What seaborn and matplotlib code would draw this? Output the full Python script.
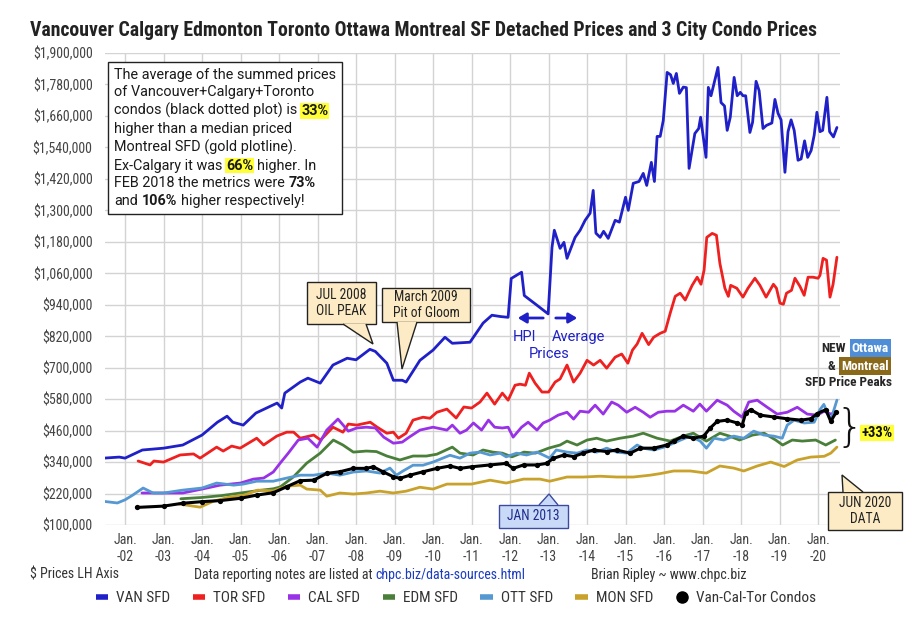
import matplotlib
matplotlib.use("Agg")
import matplotlib.pyplot as plt
import seaborn as sns
import pandas as pd
from matplotlib import font_manager
from matplotlib.lines import Line2D
from matplotlib.patches import Rectangle, Polygon
from matplotlib.ticker import FuncFormatter, FixedLocator
from matplotlib.offsetbox import TextArea, HPacker, VPacker, AnchoredOffsetbox

# ---------------- data (decimal year, price in $000) ----------------
VAN_SFD = [(2001.45,355),(2001.85,359),(2002.0,355),(2002.45,386),(2003.0,393),(2003.5,405),(2004.0,443),
           (2004.4,492),(2004.65,515),(2004.8,492),(2005.07,481),(2005.4,527),(2005.95,565),(2006.07,546),
           (2006.15,603),(2006.55,645),(2006.75,660),(2007.07,641),(2007.4,710),(2007.77,736),(2008.0,730),
           (2008.36,770),(2008.5,762),(2008.8,717),(2008.97,652),(2009.2,652),(2009.3,645),(2009.66,728),
           (2010.0,767),(2010.31,816),(2010.5,793),(2010.96,797),(2011.3,870),(2011.53,900),(2011.75,895),
           (2011.95,892),(2012.03,1040),(2012.3,1064),(2012.37,975),(2012.7,938),(2012.99,905),(2013.09,1159),
           (2013.15,1224),(2013.3,1155),(2013.4,1178),(2013.48,1117),(2013.69,1197),(2013.82,1224),(2013.95,1262),
           (2014.08,1289),(2014.16,1376),(2014.23,1213),(2014.34,1197),(2014.43,1220),(2014.55,1193),(2014.73,1262),
           (2014.84,1255),(2015.0,1350),(2015.07,1300),(2015.2,1403),(2015.35,1410),(2015.46,1441),(2015.55,1395),
           (2015.67,1483),(2015.75,1410),(2015.82,1582),(2015.9,1582),(2015.98,1643),(2016.08,1826),(2016.17,1817),
           (2016.24,1784),(2016.32,1822),(2016.4,1746),(2016.5,1770),(2016.58,1768),(2016.65,1460),(2016.8,1593),
           (2016.9,1612),(2016.95,1655),(2017.09,1502),(2017.15,1769),(2017.22,1737),(2017.4,1845),(2017.48,1711),
           (2017.57,1698),(2017.64,1605),(2017.72,1655),(2017.82,1807),(2017.9,1737),(2017.98,1750),(2018.05,1737),
           (2018.12,1737),(2018.23,1597),(2018.3,1636),(2018.39,1792),(2018.47,1756),(2018.57,1612),(2018.66,1624),
           (2018.8,1633),(2018.88,1723),(2018.96,1670),(2019.04,1645),(2019.14,1445),(2019.22,1600),(2019.3,1645),
           (2019.38,1605),(2019.48,1491),(2019.56,1496),(2019.65,1565),(2019.73,1502),(2019.82,1528),(2019.9,1587),
           (2019.97,1674),(2020.05,1600),(2020.12,1605),(2020.23,1731),(2020.3,1600),(2020.4,1580),(2020.49,1616)]

TOR_SFD = [(2002.34,344),(2002.65,329),(2002.75,344),(2003.0,340),(2003.43,367),(2003.78,371),(2003.95,355),
           (2004.38,397),(2004.55,382),(2004.77,401),(2004.99,393),(2005.42,431),(2005.6,405),(2005.94,439),
           (2006.2,454),(2006.38,454),(2006.55,431),(2006.9,443),(2007.08,424),(2007.4,473),(2007.66,454),
           (2007.8,485),(2008.02,481),(2008.37,492),(2008.55,473),(2008.8,450),(2008.97,454),(2009.1,431),
           (2009.3,450),(2009.48,500),(2009.74,511),(2009.92,507),(2010.1,530),(2010.36,542),(2010.6,508),
           (2010.8,550),(2011.0,546),(2011.22,569),(2011.4,603),(2011.6,561),(2011.8,603),(2011.95,576),
           (2012.13,633),(2012.26,637),(2012.4,633),(2012.5,679),(2012.65,641),(2012.83,607),(2013.0,607),
           (2013.17,645),(2013.3,657),(2013.48,710),(2013.65,645),(2013.82,679),(2014.0,728),(2014.17,710),
           (2014.34,728),(2014.51,698),(2014.73,740),(2014.9,752),(2015.06,717),(2015.18,767),(2015.3,790),
           (2015.43,831),(2015.6,788),(2015.73,816),(2015.9,831),(2016.03,839),(2016.16,908),(2016.29,972),
           (2016.42,984),(2016.55,958),(2016.73,1014),(2016.86,1045),(2016.96,1018),(2017.04,1072),(2017.11,1197),
           (2017.25,1212),(2017.36,1205),(2017.45,1098),(2017.58,1003),(2017.67,972),(2017.73,1014),(2017.89,1003),
           (2018.05,969),(2018.18,1003),(2018.36,1041),(2018.49,1014),(2018.65,969),(2018.84,1018),(2018.92,1003),
           (2019.01,946),(2019.1,942),(2019.18,984),(2019.31,995),(2019.4,1041),(2019.53,1010),(2019.64,976),
           (2019.74,1045),(2019.87,1045),(2020.0,1041),(2020.05,1052),(2020.13,1117),(2020.22,1110),(2020.31,969),
           (2020.39,1018),(2020.49,1121)]

CAL_SFD = [(2002.44,222),(2003.0,222),(2003.5,222),(2004.0,237),(2004.47,252),(2005.0,260),(2005.33,275),
           (2005.6,279),(2005.85,302),(2006.03,336),(2006.24,374),(2006.5,424),(2006.75,431),(2006.99,397),
           (2007.24,462),(2007.53,504),(2007.8,458),(2008.02,470),(2008.27,473),(2008.5,470),(2008.72,435),
           (2008.97,412),(2009.2,416),(2009.38,435),(2009.66,462),(2010.0,473),(2010.36,462),(2010.5,481),
           (2010.7,450),(2010.87,462),(2011.05,489),(2011.26,462),(2011.44,500),(2011.6,473),(2011.8,470),
           (2011.95,473),(2012.08,435),(2012.3,473),(2012.47,492),(2012.7,462),(2012.86,489),(2013.03,500),
           (2013.25,519),(2013.48,530),(2013.65,504),(2013.82,534),(2014.04,530),(2014.21,557),(2014.42,523),
           (2014.64,569),(2014.81,557),(2015.03,530),(2015.25,549),(2015.46,530),(2015.64,511),(2015.85,530),
           (2016.07,534),(2016.28,534),(2016.5,557),(2016.76,534),(2016.93,561),(2017.1,534),(2017.38,576),
           (2017.64,557),(2017.81,534),(2018.03,511),(2018.2,569),(2018.42,576),(2018.68,549),(2018.94,523),
           (2019.2,530),(2019.46,549),(2019.72,523),(2019.98,519),(2020.16,534),(2020.33,523),(2020.47,530)]

EDM_SFD = [(2003.45,200),(2004.0,205),(2004.5,212),(2005.0,222),(2005.5,232),(2005.85,238),(2006.03,245),
           (2006.37,283),(2006.72,336),(2007.07,374),(2007.41,424),(2007.66,405),(2007.93,378),(2008.27,382),
           (2008.53,380),(2008.8,363),(2009.14,348),(2009.48,363),(2009.83,363),(2010.1,370),(2010.5,397),
           (2010.7,374),(2011.04,367),(2011.3,386),(2011.55,378),(2011.8,374),(2012.05,360),(2012.36,378),
           (2012.66,374),(2013.0,393),(2013.3,405),(2013.48,420),(2013.74,405),(2014.0,424),(2014.25,431),
           (2014.51,420),(2014.86,431),(2015.2,439),(2015.46,450),(2015.82,431),(2016.16,420),(2016.5,439),
           (2016.76,450),(2017.1,420),(2017.45,450),(2017.7,439),(2017.96,424),(2018.3,443),(2018.6,450),
           (2018.9,424),(2019.08,405),(2019.33,424),(2019.59,420),(2019.94,424),(2020.2,405),(2020.45,424)]

OTT_SFD = [(2001.4,191),(2001.8,184),(2002.0,196),(2002.2,214),(2002.47,241),(2002.73,222),(2003.0,222),
           (2003.5,233),(2004.0,241),(2004.38,260),(2004.82,252),(2005.07,256),(2005.42,267),(2005.85,267),
           (2006.2,279),(2006.55,290),(2006.9,290),(2007.24,298),(2007.58,290),(2007.93,302),(2008.27,306),
           (2008.62,298),(2008.88,317),(2009.05,290),(2009.22,306),(2009.48,328),(2009.74,328),(2010.0,340),
           (2010.44,366),(2010.7,355),(2010.96,374),(2011.22,378),(2011.48,367),(2011.74,374),(2011.9,360),
           (2012.17,374),(2012.43,367),(2012.7,378),(2012.86,367),(2013.03,355),(2013.2,386),(2013.48,378),
           (2013.74,374),(2014.0,386),(2014.25,378),(2014.51,393),(2014.77,378),(2015.03,374),(2015.3,405),
           (2015.46,393),(2015.73,386),(2016.0,397),(2016.25,412),(2016.43,424),(2016.68,439),(2016.94,420),
           (2017.1,393),(2017.3,431),(2017.55,424),(2017.81,439),(2018.07,431),(2018.33,458),(2018.59,443),
           (2018.85,439),(2019.07,431),(2019.2,481),(2019.38,500),(2019.64,489),(2019.9,492),(2020.05,540),
           (2020.15,560),(2020.25,525),(2020.33,500),(2020.49,576)]

MON_SFD = [(2003.4,180),(2003.95,168),(2004.3,191),(2004.7,206),(2005.1,214),(2005.45,233),(2005.85,230),
           (2006.2,248),(2006.55,252),(2006.72,237),(2007.07,233),(2007.24,210),(2007.58,222),(2007.93,218),
           (2008.27,222),(2008.62,229),(2008.97,222),(2009.3,229),(2009.66,244),(2010.0,237),(2010.36,256),
           (2010.7,256),(2011.0,256),(2011.48,271),(2011.9,260),(2012.35,275),(2012.78,275),(2013.03,267),
           (2013.48,283),(2013.9,283),(2014.34,286),(2014.77,283),(2015.2,283),(2015.64,290),(2015.9,296),
           (2016.25,306),(2016.68,306),(2017.1,298),(2017.45,325),(2017.81,317),(2018.07,306),(2018.42,325),
           (2018.77,340),(2019.12,323),(2019.46,348),(2019.81,359),(2020.16,362),(2020.33,374),(2020.49,397)]

CONDOS = [(2002.3,167),(2003.0,172),(2003.5,183),(2004.0,189),(2004.47,193),(2005.0,202),(2005.42,214),
          (2005.85,223),(2006.2,246),(2006.55,269),(2006.9,271),(2007.24,297),(2007.58,303),(2007.93,316),
          (2008.27,316),(2008.45,322),(2008.7,303),(2008.97,284),(2009.14,278),(2009.4,290),(2009.74,303),
          (2010.1,316),(2010.44,325),(2010.7,316),(2011.0,322),(2011.48,329),(2011.9,335),(2012.08,316),
          (2012.35,329),(2012.7,329),(2012.95,335),(2013.12,354),(2013.4,367),(2013.65,361),(2013.9,374),
          (2014.17,386),(2014.51,380),(2014.77,386),(2015.12,374),(2015.38,393),(2015.73,393),(2016.07,405),
          (2016.25,420),(2016.5,439),(2016.76,431),(2017.03,439),(2017.2,470),(2017.38,495),(2017.64,500),
          (2017.9,489),(2018.03,481),(2018.12,527),(2018.25,540),(2018.5,519),(2018.85,512),(2019.2,505),
          (2019.55,500),(2019.81,505),(2019.98,525),(2020.2,540),(2020.33,495),(2020.47,530)]

SERIES_NAMES = ["VAN SFD", "TOR SFD", "CAL SFD", "EDM SFD", "OTT SFD", "MON SFD", "Van-Cal-Tor Condos"]
SERIES_DATA = [VAN_SFD, TOR_SFD, CAL_SFD, EDM_SFD, OTT_SFD, MON_SFD, CONDOS]
COLORS = ["#2020c8", "#ee2020", "#9932e6", "#4a7f3a", "#5598d2", "#c9a22c", "#000000"]
Y_TICKS = list(range(100000, 1900001, 120000))
YEAR_TICKS = list(range(2002, 2021))
TICK_LABELS = ["Jan.\n-%02d" % (y % 100) for y in YEAR_TICKS]
TITLE = "Vancouver Calgary Edmonton Toronto Ottawa Montreal SF Detached Prices and 3 City Condo Prices"

# ---------------- fonts ----------------
names = {f.name for f in font_manager.fontManager.ttflist}
COND = next((n for n in ["Roboto Condensed", "Liberation Sans Narrow"] if n in names), "Roboto")

sns.set_style("white")
plt.rcParams["font.family"] = ["Roboto", "DejaVu Sans"]

rows = []
for nm, pts in zip(SERIES_NAMES, SERIES_DATA):
    for yr, v in pts:
        rows.append({"year": yr, "price": v * 1000, "series": nm})
df = pd.DataFrame(rows)

W, H = 914, 640
fig, ax = plt.subplots(figsize=(W / 100, H / 100), dpi=100)
fig.subplots_adjust(left=105 / W, right=840 / W, top=1 - 53 / H, bottom=1 - 525 / H)

def fx(px):
    return px / W

def fy(py):
    return 1 - py / H

for nm, col in zip(SERIES_NAMES, COLORS):
    sub = df[df.series == nm]
    if nm == "Van-Cal-Tor Condos":
        sns.lineplot(data=sub, x="year", y="price", color=col, lw=2.2, marker="o", markersize=3.8,
                     markeredgewidth=0, estimator=None, ax=ax, legend=False, zorder=4)
    else:
        sns.lineplot(data=sub, x="year", y="price", color=col, lw=2.0, estimator=None, ax=ax,
                     legend=False, zorder=3)

ax.set_xlim(2001.48, 2020.57)
ax.set_ylim(100000, 1900000)
ax.yaxis.set_major_locator(FixedLocator(Y_TICKS))
ax.yaxis.set_major_formatter(FuncFormatter(lambda v, p: "${:,.0f}".format(v)))
ax.set_xticks(YEAR_TICKS)
ax.set_xticklabels(TICK_LABELS)
ax.set_xlabel("")
ax.set_ylabel("")
ax.grid(True, color="#d3d3d3", lw=1.0, zorder=0)
ax.set_axisbelow(True)
for s in ax.spines.values():
    s.set_visible(False)
ax.tick_params(axis="y", length=6, color="#cccccc", width=1, labelsize=10, labelcolor="#444444", pad=3)
ax.tick_params(axis="x", length=0, labelsize=10, labelcolor="#444444", pad=6)
for lab in ax.get_xticklabels() + ax.get_yticklabels():
    lab.set_fontfamily(COND)

# title
fig.text(fx(30), fy(30), TITLE, fontsize=14.2, fontweight="bold", family=COND, color="#222222",
         ha="left", va="center")

# ---------------- text box ----------------
FS = 10.4
def seg(t, kind="n"):
    props = dict(fontsize=FS, color="#1a1a1a", family="Roboto")
    if kind in ("b", "hl"):
        props["fontweight"] = "bold"
    if kind == "hl":
        props["bbox"] = dict(boxstyle="square,pad=0.06", fc="#ffff33", ec="none")
    return TextArea(t, textprops=props)

BOX_LINES = [
    [("The average of the summed prices", "n")],
    [("of Vancouver+Calgary+Toronto", "n")],
    [("condos (black dotted plot) is", "n"), ("33%", "hl")],
    [("higher than a median priced", "n")],
    [("Montreal SFD (gold plotline).", "n")],
    [("Ex-Calgary it was", "n"), ("66%", "hl"), ("higher. In", "n")],
    [("FEB 2018 the metrics were", "n"), ("73%", "b")],
    [("and", "n"), ("106%", "b"), ("higher respectively!", "n")],
]
packed = VPacker(children=[HPacker(children=[seg(t, k) for t, k in ln], sep=2.9, align="baseline")
                           for ln in BOX_LINES], sep=2.6, align="left", pad=0)
anch = AnchoredOffsetbox(loc="upper left", child=packed, pad=0.42, borderpad=0, frameon=True,
                         bbox_to_anchor=(fx(108), fy(62)), bbox_transform=fig.transFigure)
anch.patch.set_edgecolor("#222222")
anch.patch.set_linewidth(1.0)
anch.patch.set_boxstyle("square,pad=0")
anch.set_zorder(6)
ax.add_artist(anch)

# ---------------- callouts (box + pointer, figure pixel layout) ----------------
WHEAT = "#fcebc4"
def callout(txt, box, base, tip, fc, ec, tc, fs=9.8):
    x0, y0, x1, y1 = box
    fig.add_artist(Rectangle((fx(x0), fy(y1)), fx(x1) - fx(x0), fy(y0) - fy(y1),
                             transform=fig.transFigure, fc=fc, ec=ec, lw=1.0, zorder=8))
    verts = [(fx(base[0][0]), fy(base[0][1])), (fx(tip[0]), fy(tip[1])), (fx(base[1][0]), fy(base[1][1]))]
    fig.add_artist(Polygon(verts, closed=False, transform=fig.transFigure, fc=fc, ec=ec, lw=1.0,
                           zorder=9, joinstyle="miter"))
    fig.text(fx((x0 + x1) / 2), fy((y0 + y1) / 2), txt, ha="center", va="center", fontsize=fs,
             family=COND, color=tc, zorder=10, linespacing=1.25)

callout("JUL 2008\nOIL PEAK", (307, 282, 376, 324), ((343, 324), (366, 324)), (373, 344),
        WHEAT, "#222222", "#222222")
callout("March 2009\nPit of Gloom", (382, 288, 470, 322), ((397, 322), (417, 322)), (402, 369),
        WHEAT, "#222222", "#222222")
callout("JAN 2013", (499, 505, 568, 528), ((539, 505), (558, 505)), (549, 494),
        "#c9daf8", "#3c4aa0", "#1f2a8a")
callout("JUN 2020\nDATA", (828, 492, 902, 530), ((843, 492), (863, 492)), (842, 475),
        WHEAT, "#222222", "#222222")

# HPI / Average arrows and labels
BLUE = "#2020c8"
ax.annotate("", xy=(fx(515), fy(318)), xytext=(fx(546), fy(318)), xycoords="figure fraction",
            arrowprops=dict(arrowstyle="-|>,head_length=0.5,head_width=0.3", color=BLUE, lw=2), zorder=7)
ax.annotate("", xy=(fx(580), fy(318)), xytext=(fx(553), fy(318)), xycoords="figure fraction",
            arrowprops=dict(arrowstyle="-|>,head_length=0.5,head_width=0.3", color=BLUE, lw=2), zorder=7)
for t, x, y in [("HPI", 525, 337), ("Average", 579, 337), ("Prices", 549, 354)]:
    fig.text(fx(x), fy(y), t, fontsize=10.5, family="Roboto", color=BLUE, ha="center", va="center")

# right side notes
fig.text(fx(846), fy(348), "NEW", fontsize=9.5, fontweight="bold", family=COND, ha="right", va="center")
fig.text(fx(889), fy(348), "Ottawa", fontsize=9.5, fontweight="bold", family=COND, color="white",
         ha="right", va="center", bbox=dict(boxstyle="square,pad=0.18", fc="#4f8ed6", ec="none"))
fig.text(fx(835), fy(366), "&", fontsize=9.5, fontweight="bold", family=COND, ha="right", va="center")
fig.text(fx(889), fy(366), "Montreal", fontsize=9.5, fontweight="bold", family=COND, color="white",
         ha="right", va="center", bbox=dict(boxstyle="square,pad=0.18", fc="#8a6a1a", ec="none"))
fig.text(fx(892), fy(383), "SFD Price Peaks", fontsize=9.5, fontweight="bold", family=COND,
         ha="right", va="center")
fig.text(fx(850), fy(428), "}", fontsize=32, family="DejaVu Sans", color="#111111", ha="center",
         va="center", fontweight="light")
fig.text(fx(877), fy(433), "+33%", fontsize=10.5, fontweight="bold", family=COND, color="#111111",
         ha="center", va="center", bbox=dict(boxstyle="square,pad=0.1", fc="#ffff33", ec="none"))

# footer
fig.text(fx(30), fy(575), "$ Prices LH Axis", fontsize=10, family=COND, color="#333333",
         ha="left", va="center")
fig.text(fx(372), fy(575), "Data reporting notes are listed at", fontsize=10, family=COND,
         color="#333333", ha="right", va="center")
fig.text(fx(375), fy(575), "chpc.biz/data-sources.html", fontsize=10, family=COND, color="#1a3cc0",
         ha="left", va="center")
fig.text(fx(591), fy(575), "Brian Ripley ~ www.chpc.biz", fontsize=10, family=COND, color="#333333",
         ha="left", va="center")

# legend
handles = []
for nm, col in zip(SERIES_NAMES, COLORS):
    if nm == "Van-Cal-Tor Condos":
        handles.append(Line2D([], [], ls="none", marker="o", markersize=8, color=col))
    else:
        handles.append(Line2D([], [], color=col, lw=4, solid_capstyle="butt"))
leg = fig.legend(handles, SERIES_NAMES, loc="center", bbox_to_anchor=(fx(456), fy(598)), ncol=7,
                 frameon=False, handlelength=0.8, handletextpad=0.55, columnspacing=1.45,
                 prop=dict(family=COND, size=11))
for t in leg.get_texts():
    t.set_color("#333333")

fig.savefig("out.png", dpi=100)
